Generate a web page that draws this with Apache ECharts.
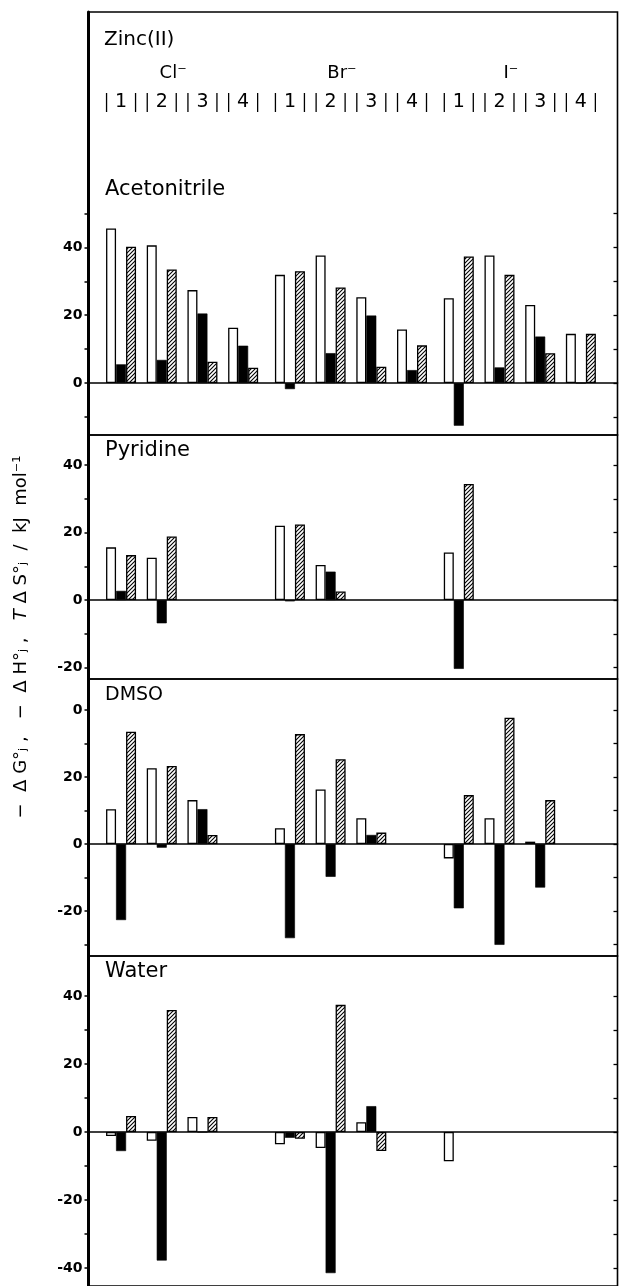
<!DOCTYPE html>
<html><head><meta charset="utf-8">
<script src="https://cdn.jsdelivr.net/npm/echarts@6/dist/echarts.min.js"></script>
<style>html,body{margin:0;padding:0;background:#fff}#c{width:620px;height:1286px}</style>
</head><body><div id="c"></div>
<script>
// ---------- data ----------
const anions = ['Cl⁻', 'Br⁻', 'I⁻'];
const steps = ['1', '2', '3', '4'];
const solvents = ['Acetonitrile', 'Pyridine', 'DMSO', 'Water'];

// order: Cl1..Cl4, Br1..Br4, I1..I4 ;  G = -ΔG°j (white), H = -ΔH°j (black), S = TΔS°j (hatched)
const acetonitrileG = [45.6, 40.6, 27.4, 16.3, 31.9, 37.6, 25.3, 15.8, 25.0, 37.6, 23.0, 14.5];
const acetonitrileH = [5.5, 6.8, 20.5, 11.0, -1.8, 8.8, 19.9, 3.8, -12.6, 4.6, 13.7, 0];
const acetonitrileS = [40.2, 33.5, 6.3, 4.5, 33.0, 28.2, 4.8, 11.1, 37.3, 31.9, 8.8, 14.5];

const pyridineG = [15.6, 12.5, null, null, 22.0, 10.4, null, null, 14.1, null, null, null];
const pyridineH = [2.7, -6.9, null, null, -0.4, 8.4, null, null, -20.4, null, null, null];
const pyridineS = [13.3, 18.8, null, null, 22.4, 2.5, null, null, 34.4, null, null, null];

const dmsoG = [10.4, 22.6, 13.1, null, 4.7, 16.3, 7.7, null, -4.3, 7.7, 0.7, null];
const dmsoH = [-22.7, -1.1, 10.4, null, -28.1, -9.8, 2.7, null, -19.2, -30.1, -13.0, null];
const dmsoS = [33.5, 23.3, 2.7, null, 32.8, 25.3, 3.4, null, 14.6, 37.7, 13.1, null];

const waterG = [-1.2, -2.6, 4.4, null, -3.6, -4.7, 2.9, null, -8.6, null, null, null];
const waterH = [-5.6, -37.8, 0, null, -1.7, -41.5, 7.6, null, null, null, null, null];
const waterS = [4.7, 35.9, 4.4, null, -2.0, 37.4, -5.6, null, null, null, null, null];

// tick ranges (value axis, every 10) and tick labels per panel
const tickRanges = [[-10, 50], [-20, 40], [-30, 40], [-40, 40]];
const tickLabels = [
  [[0, '0'], [20, '20'], [40, '40']],
  [[-20, '-20'], [0, '0'], [20, '20'], [40, '40']],
  [[-20, '-20'], [0, '0'], [20, '20'], [40, '0']],
  [[-40, '-40'], [-20, '-20'], [0, '0'], [20, '20'], [40, '40']]
];
const yTitle = '−  Δ G°ⱼ ,   −  Δ H°ⱼ ,   {i|T} Δ S°ⱼ  /  kJ  mol⁻¹';
const metalLabel = 'Zinc(II)';

// ---------- layout ----------
const panelData = [
  [acetonitrileG, acetonitrileH, acetonitrileS],
  [pyridineG, pyridineH, pyridineS],
  [dmsoG, dmsoH, dmsoS],
  [waterG, waterH, waterS]
];
const GROUP_GAP = 0.15;
const xPos = [];
anions.forEach((a, g) => steps.forEach((s, k) => xPos.push(g * (4 + GROUP_GAP) + k)));
const groupCenters = anions.map((a, g) => g * (4 + GROUP_GAP) + 1.5);
const X_MIN = -0.8, X_MAX = 12.2;
const LEFT = 88.5, WIDTH = 529;
const frames = [{ top: 12, h: 423 }, { top: 435, h: 244 }, { top: 679, h: 277 }, { top: 956, h: 340 }];
const boxes = [{ top: 213.5, h: 203.4 }, { top: 465, h: 202.5 }, { top: 710, h: 234.5 }, { top: 996, h: 272 }];
const labelPos = [189.5, 450.5, 695.5, 972];
const FONT = '"DejaVu Sans", "Liberation Sans", sans-serif';

// hatch pattern
const hatch = document.createElement('canvas');
hatch.width = 4; hatch.height = 4;
(function () {
  const c = hatch.getContext('2d');
  c.fillStyle = '#fff'; c.fillRect(0, 0, 4, 4);
  c.strokeStyle = '#000'; c.lineWidth = 1.1;
  c.beginPath();
  c.moveTo(-1, 5); c.lineTo(5, -1);
  c.moveTo(-1, 1); c.lineTo(1, -1);
  c.moveTo(3, 5); c.lineTo(5, 3);
  c.stroke();
})();
const styles = [
  { color: '#fff', borderColor: '#000', borderWidth: 1.3 },
  { color: '#000', borderColor: '#000', borderWidth: 0.6 },
  { color: { image: hatch, repeat: 'repeat' }, borderColor: '#000', borderWidth: 1.3 }
];

const grid = [], xAxis = [], yAxis = [], series = [];
frames.forEach((f, p) => {
  grid.push({ left: LEFT, width: WIDTH, top: f.top, height: f.h, show: true, borderColor: '#000', borderWidth: 1.6, backgroundColor: 'transparent' });
  xAxis.push({ gridIndex: p, type: 'value', min: 0, max: 1, show: false });
  yAxis.push({ gridIndex: p, type: 'value', min: 0, max: 1, position: 'left',
    axisLine: { show: true, onZero: false, lineStyle: { color: '#000', width: 3 } },
    axisTick: { show: false }, axisLabel: { show: false }, splitLine: { show: false } });
});
boxes.forEach((b, p) => {
  const gi = 4 + p;
  grid.push({ left: LEFT, width: WIDTH, top: b.top, height: b.h, show: false });
  xAxis.push({ gridIndex: gi, type: 'value', min: X_MIN, max: X_MAX,
    axisLine: { show: true, onZero: true, lineStyle: { color: '#000', width: 1.6 } },
    axisTick: { show: false }, axisLabel: { show: false }, splitLine: { show: false } });
  const lab = new Map(tickLabels[p]);
  yAxis.push({ gridIndex: gi, type: 'value', min: tickRanges[p][0], max: tickRanges[p][1], interval: 10, position: 'left',
    axisLine: { show: false, onZero: false },
    axisTick: { show: true, inside: false, length: 4, lineStyle: { color: '#000', width: 1.5 } },
    axisLabel: { show: true, margin: 6, color: '#000', fontFamily: FONT, fontWeight: 'bold', fontSize: 14,
      formatter: v => lab.has(v) ? lab.get(v) : '' },
    splitLine: { show: false } });
});
boxes.forEach((b, p) => {
  yAxis.push({ gridIndex: 4 + p, type: 'value', min: tickRanges[p][0], max: tickRanges[p][1], interval: 10, position: 'right',
    axisLine: { show: false, onZero: false },
    axisTick: { show: true, inside: true, length: 4, lineStyle: { color: '#000', width: 1.3 } },
    axisLabel: { show: false }, splitLine: { show: false } });
});

panelData.forEach((arrs, p) => {
  arrs.forEach((vals, q) => {
    series.push({
      type: 'bar', xAxisIndex: 4 + p, yAxisIndex: 4 + p,
      barWidth: 10, barGap: '0%', clip: false,
      itemStyle: styles[q], silent: true,
      data: vals.map((v, i) => [xPos[i], v]).filter(d => d[1] !== null)
    });
  });
});

// header: step numbers with bracket bars
const HEADER_Y = 102.5;
series.push({
  type: 'custom', xAxisIndex: 4, yAxisIndex: 4, clip: false, silent: true,
  data: xPos.map((x, i) => [x, 0, i]),
  renderItem: (params, api) => {
    const px = api.coord([api.value(0), 0])[0];
    const lbl = steps[params.dataIndex % 4];
    return { type: 'group', children: [
      { type: 'text', style: { text: lbl, x: px, y: HEADER_Y, align: 'center', verticalAlign: 'middle', font: '19px ' + FONT, fill: '#000' } },
      { type: 'line', shape: { x1: px - 14.5, y1: HEADER_Y - 9.5, x2: px - 14.5, y2: HEADER_Y + 9.5 }, style: { stroke: '#000', lineWidth: 1.3 } },
      { type: 'line', shape: { x1: px + 14.5, y1: HEADER_Y - 9.5, x2: px + 14.5, y2: HEADER_Y + 9.5 }, style: { stroke: '#000', lineWidth: 1.3 } }
    ] };
  }
});
series.push({
  type: 'custom', xAxisIndex: 4, yAxisIndex: 4, clip: false, silent: true,
  data: groupCenters.map((x, i) => [x, 0, i]),
  renderItem: (params, api) => {
    const px = api.coord([api.value(0), 0])[0];
    return { type: 'text', style: { text: anions[params.dataIndex], x: px - 9, y: 73, align: 'center', verticalAlign: 'middle', font: '18px ' + FONT, fill: '#000' } };
  }
});

const graphic = [
  { type: 'text', left: 104, top: 30, style: { text: metalLabel, font: '20px ' + FONT, fill: '#000' } },
  { type: 'text', x: 21, y: 637, rotation: Math.PI / 2,
    style: { text: yTitle, align: 'center', verticalAlign: 'middle', font: '18px ' + FONT, fill: '#000',
      rich: { i: { fontStyle: 'italic', fontSize: 18, fontFamily: FONT } } } }
];
solvents.forEach((s, p) => {
  graphic.push({ type: 'text', x: 105, y: labelPos[p],
    style: { text: s, verticalAlign: 'middle', font: (s === 'DMSO' ? '19px ' : '21px ') + FONT, fill: '#000' } });
});

const chart = echarts.init(document.getElementById('c'), null, { renderer: 'canvas' });
chart.setOption({ animation: false, backgroundColor: '#fff', grid, xAxis, yAxis, series, graphic });
</script></body></html>
